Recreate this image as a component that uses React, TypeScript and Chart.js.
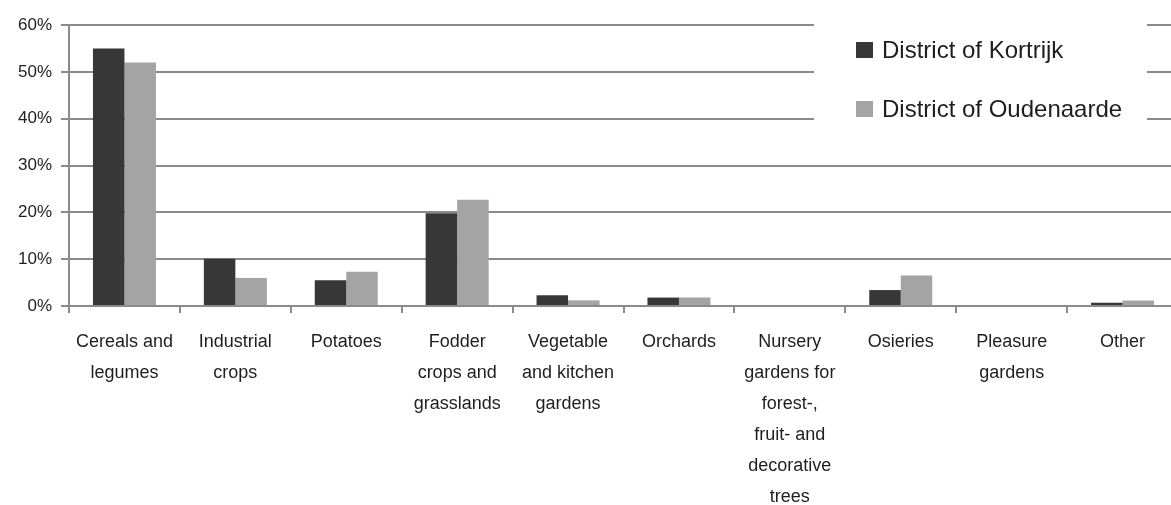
import React, { useEffect, useRef } from "react";
import { Chart, registerables } from "chart.js";

Chart.register(...registerables);

const categories: string[][] = [
  ["Cereals and", "legumes"],
  ["Industrial", "crops"],
  ["Potatoes"],
  ["Fodder", "crops and", "grasslands"],
  ["Vegetable", "and kitchen", "gardens"],
  ["Orchards"],
  ["Nursery", "gardens for", "forest-,", "fruit- and", "decorative", "trees"],
  ["Osieries"],
  ["Pleasure", "gardens"],
  ["Other"],
];

const seriesNames = ["District of Kortrijk", "District of Oudenaarde"];
const kortrijk = [55.0, 10.1, 5.5, 19.8, 2.3, 1.8, 0, 3.4, 0, 0.7];
const oudenaarde = [52.0, 6.0, 7.3, 22.7, 1.2, 1.8, 0, 6.5, 0, 1.2];
const yTicks = [0, 10, 20, 30, 40, 50, 60];

const DARK = "#373737";
const LIGHT = "#a4a4a4";
const GRID = "#8a8a8a";
const TEXT = "#1e1e1e";
const FONT = "'Liberation Sans', Arial, sans-serif";

const legendPlugin = {
  id: "boxLegend",
  afterDatasetsDraw(chart: any) {
    const ctx = chart.ctx;
    const ca = chart.chartArea;
    const x0 = ca.left + 745;
    ctx.save();
    ctx.fillStyle = "#ffffff";
    ctx.fillRect(x0, ca.top - 13, 333, 133);
    const colors = [DARK, LIGHT];
    chart.data.datasets.forEach((ds: any, i: number) => {
      const y = ca.top + 17 + i * 59;
      ctx.fillStyle = colors[i];
      ctx.fillRect(x0 + 42, y, 17, 16);
      ctx.fillStyle = TEXT;
      ctx.font = `24px ${FONT}`;
      ctx.textBaseline = "alphabetic";
      ctx.textAlign = "left";
      ctx.fillText(ds.label, x0 + 68, y + 16);
    });
    ctx.restore();
  },
};

export default function App() {
  const ref = useRef<HTMLCanvasElement | null>(null);
  useEffect(() => {
    if (!ref.current) return;
    const chart = new Chart(ref.current, {
      type: "bar",
      data: {
        labels: categories,
        datasets: [
          {
            label: seriesNames[0],
            data: kortrijk,
            backgroundColor: DARK,
            categoryPercentage: 0.568,
            barPercentage: 1.0,
          },
          {
            label: seriesNames[1],
            data: oudenaarde,
            backgroundColor: LIGHT,
            categoryPercentage: 0.568,
            barPercentage: 1.0,
          },
        ],
      },
      options: {
        animation: false,
        responsive: false,
        maintainAspectRatio: false,
        layout: { padding: { top: 25, right: 22, bottom: 0, left: 0 } },
        plugins: {
          legend: { display: false },
          tooltip: { enabled: false },
        },
        scales: {
          x: {
            grid: {
              display: true,
              drawOnChartArea: false,
              drawTicks: true,
              tickLength: 7,
              color: GRID,
              lineWidth: 2,
            },
            border: { display: true, color: GRID, width: 2 },
            ticks: {
              color: TEXT,
              font: { family: FONT, size: 18, lineHeight: 31 / 18 },
              padding: 14,
              maxRotation: 0,
              autoSkip: false,
            },
            afterFit(scale: any) {
              scale.height = 199;
            },
          },
          y: {
            min: 0,
            max: 60,
            afterBuildTicks(scale: any) {
              scale.ticks = yTicks.map((v) => ({ value: v }));
            },
            grid: {
              color: GRID,
              lineWidth: 2,
              drawTicks: true,
              tickLength: 8,
            },
            border: { display: true, color: GRID, width: 2 },
            ticks: {
              color: TEXT,
              font: { family: FONT, size: 17 },
              padding: 9,
              callback: (v: any) => `${v}%`,
            },
            afterFit(scale: any) {
              scale.width = 69;
            },
          },
        },
      },
      plugins: [legendPlugin],
    });
    return () => chart.destroy();
  }, []);
  return (
    <div
      style={{
        position: "fixed",
        left: 0,
        top: 0,
        width: 1171,
        height: 505,
        overflow: "hidden",
        background: "#ffffff",
      }}
    >
      <canvas ref={ref} width={1200} height={505} style={{ width: 1200, height: 505 }} />
    </div>
  );
}
